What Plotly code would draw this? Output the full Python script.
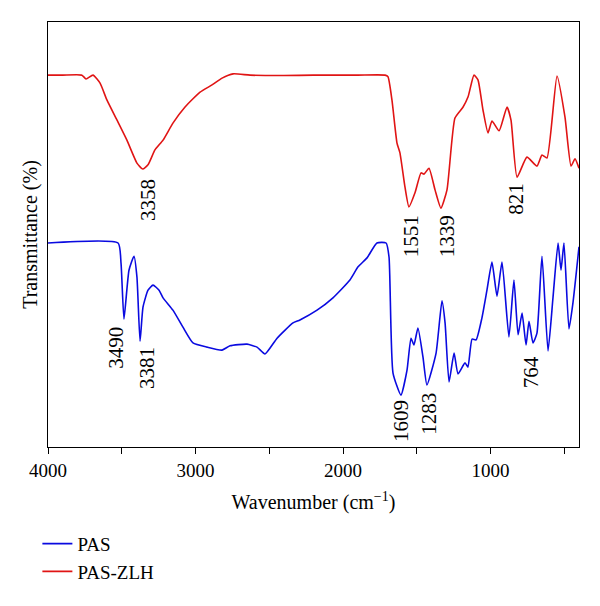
import plotly.graph_objects as go

# PAS-ZLH (red) spectrum: wavenumber (cm^-1) and transmittance (arb. %)
zlh_wn = [4000, 3900, 3770, 3742, 3695, 3647, 3600, 3532, 3465, 3397, 3358, 3322, 3275, 3220,
          3153, 3071, 2969, 2888, 2820, 2745, 2630, 2400, 2200, 1900, 1715, 1695, 1668, 1634,
          1614, 1580, 1553, 1512, 1471, 1451, 1417, 1376, 1336, 1295, 1241, 1186, 1152, 1112,
          1085, 1051, 1017, 990, 942, 888, 861, 820, 753, 685, 651, 617, 549, 495, 454, 427, 400]
zlh_t = [87.5, 87.5, 87.5, 86.6, 87.5, 85.6, 81.6, 76.9, 72.2, 66.8, 65.4, 66.4, 69.9, 72.2,
         76.2, 80.0, 83.5, 85.2, 86.8, 87.8, 87.5, 87.4, 87.5, 87.5, 87.5, 87.1, 81.6, 71.5,
         69.2, 61.2, 56.5, 59.8, 64.5, 64.2, 65.6, 60.5, 56.2, 60.5, 77.4, 80.0, 82.4, 87.5,
         86.4, 79.3, 73.9, 76.7, 74.4, 80.0, 76.9, 63.5, 68.2, 66.1, 68.7, 68.0, 87.3, 77.6,
         66.1, 67.8, 65.6]

# PAS (blue) spectrum
pas_wn = [4000, 3525, 3505, 3485, 3451, 3417, 3397, 3376, 3356, 3322, 3288, 3247, 3220, 3153,
          3085, 3017, 2922, 2820, 2766, 2651, 2583, 2529, 2447, 2339, 2292, 2176, 2068, 1953,
          1898, 1837, 1770, 1708, 1688, 1661, 1607, 1566, 1539, 1519, 1492, 1458, 1431, 1369,
          1329, 1308, 1281, 1247, 1220, 1173, 1153, 1125, 1098, 1058, 1024, 990, 956, 922, 875,
          841, 813, 786, 759, 739, 712, 685, 651, 610, 576, 542, 522, 502, 468, 441, 400]
pas_t = [48.0, 48.0, 43.3, 30.1, 41.6, 44.9, 40.0, 24.9, 32.9, 36.9, 38.1, 36.9, 35.1, 32.2,
         28.2, 24.5, 23.5, 22.8, 23.8, 24.2, 23.5, 21.9, 25.6, 29.2, 29.9, 32.2, 35.1, 39.3,
         42.4, 44.5, 48.0, 48.0, 44.7, 17.4, 12.2, 18.1, 25.6, 24.0, 28.0, 21.2, 14.6, 22.1,
         34.4, 29.2, 15.3, 22.1, 17.2, 19.8, 18.8, 25.4, 25.2, 30.4, 36.9, 43.5, 35.5, 43.5, 25.9,
         39.3, 26.4, 31.5, 24.0, 29.6, 24.5, 26.8, 44.9, 22.6, 35.3, 48.0, 41.6, 48.0, 27.8,
         33.9, 47.1]

# Peak labels: text, x position (wavenumber), y position (transmittance)
label_text = ["3358", "3490", "3381", "1551", "1339", "821", "1609", "1283", "764"]
label_x = [3322, 3540, 3329, 1539, 1295, 827, 1607, 1417, 725]
label_y = [58.1, 23.3, 18.6, 49.6, 49.6, 58.4, 6.1, 7.8, 17.6]

FONT = "Liberation Serif"

fig = go.Figure()
fig.add_trace(go.Scatter(x=pas_wn, y=pas_t, mode="lines", name="PAS",
                         line=dict(color="#0a0ae0", width=1.6, shape="spline", smoothing=0.5)))
fig.add_trace(go.Scatter(x=zlh_wn, y=zlh_t, mode="lines", name="PAS-ZLH",
                         line=dict(color="#e01414", width=1.6, shape="spline", smoothing=0.5)))

for t, x, y in zip(label_text, label_x, label_y):
    fig.add_annotation(x=x, y=y, text=t, textangle=-90, showarrow=False,
                       font=dict(family=FONT, size=21, color="black"))

fig.update_layout(
    width=592, height=598,
    margin=dict(l=40, r=21, t=14, b=159, autoexpand=False),
    paper_bgcolor="white", plot_bgcolor="white",
    font=dict(family=FONT, size=18, color="black"),
    showlegend=True,
    legend=dict(orientation="v", x=-0.02, xanchor="left", y=-0.183, yanchor="top",
                font=dict(family=FONT, size=19), bgcolor="rgba(0,0,0,0)",
                tracegroupgap=0, itemwidth=30),
    xaxis=dict(range=[4000, 400], showline=True, linecolor="black", linewidth=1, mirror=True,
               showgrid=False, zeroline=False, ticks="outside", ticklen=6, tickcolor="black",
               automargin=False,
               tickvals=[4000, 3000, 2000, 1000], ticktext=["4000", "3000", "2000", "1000"],
               minor=dict(tickvals=[3500, 2500, 1500, 500], ticks="outside", ticklen=6,
                          tickcolor="black"),
               tickfont=dict(family=FONT, size=19),
               title=dict(text="Wavenumber (cm<sup>−1</sup>)", font=dict(family=FONT, size=20),
                          standoff=15)),
    yaxis=dict(range=[0, 100], showline=True, linecolor="black", linewidth=1, mirror=True,
               showgrid=False, zeroline=False, showticklabels=False, ticks="",
               automargin=False,
               title=dict(text="Transmittance (%)", font=dict(family=FONT, size=20), standoff=4)),
)

fig.write_html("out.html")
